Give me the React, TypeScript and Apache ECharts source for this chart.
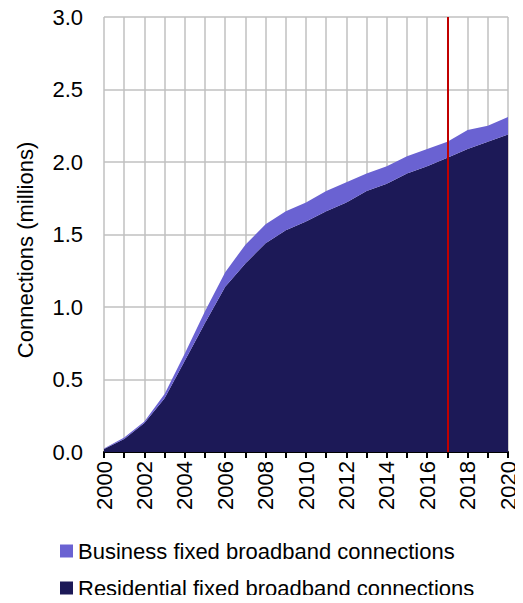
import React, { useEffect, useRef } from "react";
import * as echarts from "echarts";

const years = [
  "2000", "2001", "2002", "2003", "2004", "2005", "2006", "2007", "2008", "2009", "2010",
  "2011", "2012", "2013", "2014", "2015", "2016", "2017", "2018", "2019", "2020",
];
const residential = [
  0.02, 0.09, 0.2, 0.37, 0.63, 0.89, 1.14, 1.3, 1.44, 1.53, 1.59,
  1.66, 1.72, 1.8, 1.85, 1.92, 1.97, 2.03, 2.09, 2.14, 2.19,
];
const business = [
  0.005, 0.01, 0.01, 0.03, 0.05, 0.08, 0.1, 0.13, 0.13, 0.13, 0.13,
  0.14, 0.14, 0.12, 0.12, 0.12, 0.12, 0.11, 0.13, 0.11, 0.12,
];
const markerYear = "2017";
const seriesNames = ["Business fixed broadband connections", "Residential fixed broadband connections"];
const font = "'Liberation Sans', Arial, sans-serif";

export default function App() {
  const ref = useRef<HTMLDivElement>(null);
  useEffect(() => {
    if (!ref.current) return;
    const chart = echarts.init(ref.current, null, { renderer: "svg" });
    const legendBase = {
      orient: "horizontal",
      left: 60,
      padding: 0,
      itemWidth: 13,
      itemHeight: 13,
      itemGap: 0,
      icon: "rect",
      selectedMode: false,
      textStyle: { fontSize: 22, color: "#000", fontFamily: font, lineHeight: 22 },
    };
    chart.setOption({
      animation: false,
      textStyle: { fontFamily: font },
      grid: { left: 104, right: 15, top: 17, bottom: 151, containLabel: false },
      legend: [
        { ...legendBase, top: 540, data: [seriesNames[0]] },
        { ...legendBase, top: 577, data: [seriesNames[1]] },
      ],
      graphic: [
        {
          type: "text",
          x: 25,
          y: 250,
          rotation: Math.PI / 2,
          style: {
            text: "Connections (millions)",
            fontSize: 22,
            fontFamily: font,
            fill: "#000",
            textAlign: "center",
            textVerticalAlign: "middle",
          },
        },
      ],
      xAxis: {
        type: "category",
        data: years,
        boundaryGap: false,
        axisLine: { show: true, lineStyle: { color: "#000", width: 2 } },
        axisTick: { show: true, interval: 0, length: 6, lineStyle: { color: "#000", width: 2 } },
        axisLabel: {
          interval: 1,
          rotate: 90,
          fontSize: 22,
          color: "#000",
          fontFamily: font,
          margin: 9,
        },
        splitLine: { show: true, interval: 0, lineStyle: { color: "#C0C0C0", width: 1.5 } },
      },
      yAxis: {
        type: "value",
        min: 0,
        max: 3,
        interval: 0.5,
        axisLine: { show: false },
        axisTick: { show: false },
        axisLabel: {
          fontSize: 22,
          color: "#000",
          fontFamily: font,
          margin: 21,
          formatter: (v: number) => v.toFixed(1),
        },
        splitLine: { show: true, lineStyle: { color: "#C0C0C0", width: 1.5 } },
      },
      series: [
        {
          name: seriesNames[1],
          type: "line",
          stack: "total",
          data: residential,
          symbol: "none",
          lineStyle: { width: 0 },
          areaStyle: { color: "#1C1957", opacity: 1 },
          itemStyle: { color: "#1C1957" },
          z: 2,
        },
        {
          name: seriesNames[0],
          type: "line",
          stack: "total",
          data: business,
          symbol: "none",
          lineStyle: { width: 0 },
          areaStyle: { color: "#6A62D2", opacity: 1 },
          itemStyle: { color: "#6A62D2" },
          z: 2,
          markLine: {
            silent: true,
            symbol: "none",
            label: { show: false },
            lineStyle: { color: "#C00000", width: 2, type: "solid" },
            data: [{ xAxis: markerYear }],
            z: 5,
          },
        },
      ],
    });
    return () => chart.dispose();
  }, []);
  return <div ref={ref} style={{ width: 523, height: 603, margin: -8 }} />;
}
